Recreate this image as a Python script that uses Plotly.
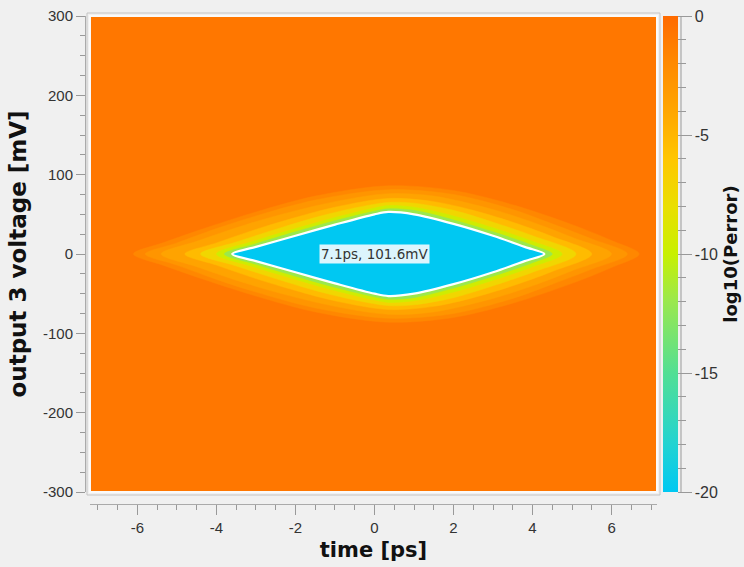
import plotly.graph_objects as go
from plotly.colors import sample_colorscale

# ---------------- data ----------------
x_range = [-7.2, 7.15]          # time [ps]
y_range = [-300, 300]           # voltage [mV]
x_ticks = [-6, -4, -2, 0, 2, 4, 6]
y_ticks = [-300, -200, -100, 0, 100, 200, 300]
cbar_ticks = [0, -5, -10, -15, -20]
cbar_minor = list(range(0, -21, -1))

# log10(Perror) colour scale (fraction 0 -> -20, 1 -> 0)
colorscale = [
    [0.00, "#00c8f2"],
    [0.10, "#22d3d2"],
    [0.25, "#52df94"],
    [0.40, "#9ae84e"],
    [0.50, "#c8f000"],
    [0.60, "#eadf00"],
    [0.70, "#ffc600"],
    [0.80, "#ffa600"],
    [0.90, "#ff8a00"],
    [1.00, "#ff6a00"],
]
cmin, cmax = -20, 0

background_level = -0.8

# nested regions (outermost first); upper half outline: time [ps], voltage [mV]
band_levels = [-1.8, -2.8, -3.8, -5.3, -7.3, -9.5, -12.0, -20.0]
band_times = [
    [-6.1, -5.3, -4.2, -3.0, -1.5, 0.35, 2.0, 3.5, 5.0, 6.0, 6.7],
    [-5.8, -5.0, -4.0, -3.0, -1.5, 0.35, 2.0, 3.5, 4.5, 5.5, 6.4],
    [-5.4, -4.5, -3.5, -2.5, -1.0, 0.35, 1.5, 3.0, 4.0, 5.0, 6.0],
    [-4.8, -4.0, -3.0, -2.0, -1.0, 0.35, 1.5, 2.5, 3.5, 4.5, 5.5],
    [-4.4, -3.5, -2.5, -1.5, -0.5, 0.35, 1.0, 2.0, 3.0, 4.0, 5.1],
    [-4.0, -3.0, -2.0, -1.0, 0.0, 0.35, 1.0, 2.0, 3.0, 4.0, 4.75],
    [-3.8, -3.0, -2.0, -1.0, 0.0, 0.35, 1.0, 2.0, 3.0, 4.0, 4.5],
    [-3.6, -3.0, -2.0, -1.0, 0.0, 0.35, 1.0, 2.0, 3.0, 3.8, 4.3],
]
band_volts = [
    [0, 15, 34, 53, 73, 86, 80, 62, 37, 17, 0],
    [0, 14, 32, 48, 68, 81, 75, 56, 38, 19, 0],
    [0, 16, 33, 48, 66, 76, 73, 56, 40, 21, 0],
    [0, 14, 31, 46, 59, 70, 66, 55, 40, 22, 0],
    [0, 15, 31, 46, 58, 65, 64, 55, 40, 23, 0],
    [0, 17, 32, 46, 58, 61, 59, 48, 33, 16, 0],
    [0, 13, 28, 42, 54, 57, 55, 43, 28, 11, 0],
    [0, 9, 23, 37, 50, 53, 50, 38, 23, 9, 0],
]

eye_label = "7.1ps, 101.6mV"
eye_label_pos = (0.0, 0)

# ---------------- figure ----------------
def level_color(lvl):
    return sample_colorscale(colorscale, [(lvl - cmin) / (cmax - cmin)])[0]

def ring(ts, vs):
    pts = list(zip(ts, vs)) + [(t, -v) for t, v in zip(ts[-2:0:-1], vs[-2:0:-1])]
    k = max(range(len(pts)), key=lambda i: pts[i][1])
    pts = pts[k:] + pts[:k] + [pts[k]]
    return [p[0] for p in pts], [p[1] for p in pts]

fig = go.Figure()
n = len(band_levels)
for i, (lvl, ts, vs) in enumerate(zip(band_levels, band_times, band_volts)):
    col = level_color(lvl)
    xs, ys = ring(ts, vs)
    last = i == n - 1
    fig.add_trace(go.Scatter(
        x=xs, y=ys, mode="lines", fill="toself", fillcolor=col,
        line=dict(color="white" if last else col, width=2.2 if last else 0.5,
                  shape="spline", smoothing=0.9),
        hoverinfo="skip", showlegend=False))

font_t = "Liberation Sans, Arial, sans-serif"
font_b = "DejaVu Sans, Verdana, sans-serif"

cb_x = (663 - 85) / 572
cb_len = 476 / 488
# colorbar: major ticks with labels
fig.add_trace(go.Scatter(
    x=[None], y=[None], mode="markers", showlegend=False, hoverinfo="skip",
    marker=dict(color=[cmin, cmax], cmin=cmin, cmax=cmax, colorscale=colorscale,
                showscale=True,
                colorbar=dict(
                    x=cb_x, xanchor="left", xpad=0,
                    y=1, yanchor="top", len=cb_len, lenmode="fraction", ypad=0,
                    thickness=15, outlinewidth=0,
                    tickmode="array", tickvals=cbar_ticks,
                    ticktext=[str(v) for v in cbar_ticks],
                    ticks="outside", ticklen=14, tickcolor="#999999",
                    tickfont=dict(family=font_t, size=16, color="#333333"),
                    title=dict(text="<b>log10(Perror)</b>", side="right",
                               font=dict(family=font_b, size=18, color="#111111")),
                ))))
# colorbar: minor ticks
fig.add_trace(go.Scatter(
    x=[None], y=[None], mode="markers", showlegend=False, hoverinfo="skip",
    marker=dict(color=[cmin, cmax], cmin=cmin, cmax=cmax, colorscale=colorscale,
                showscale=True,
                colorbar=dict(
                    x=cb_x, xanchor="left", xpad=0,
                    y=1, yanchor="top", len=cb_len, lenmode="fraction", ypad=0,
                    thickness=15, outlinewidth=0,
                    tickmode="array", tickvals=cbar_minor,
                    ticks="outside", ticklen=8, tickcolor="#999999",
                    showticklabels=False,
                ))))

fig.add_annotation(x=eye_label_pos[0], y=eye_label_pos[1], text=eye_label,
                   showarrow=False, bgcolor="#dcf5fd", borderpad=1,
                   font=dict(family=font_b, size=13.5, color="#333333"))

bg = level_color(background_level)
fig.update_layout(
    width=744, height=567,
    margin=dict(l=85, r=87, t=16, b=63, autoexpand=False),
    paper_bgcolor="#f0f0f0", plot_bgcolor="#f0f0f0",
    xaxis=dict(domain=[5 / 572, 1], anchor="free", position=0,
               range=x_range, tickmode="array", tickvals=x_ticks,
               ticktext=[str(v) for v in x_ticks],
               ticks="outside", ticklen=10, tickcolor="#999999",
               minor=dict(tickmode="linear", tick0=0, dtick=0.5, ticks="outside",
                          ticklen=5, tickcolor="#999999"),
               showline=True, linecolor="#aaaaaa", showgrid=False, zeroline=False,
               tickfont=dict(family=font_t, size=15, color="#333333"),
               title=dict(text="<b>time [ps]</b>", standoff=7,
                          font=dict(family=font_b, size=21, color="#111111"))),
    yaxis=dict(domain=[12 / 488, 1], anchor="free", position=0,
               range=y_range, tickmode="array", tickvals=y_ticks,
               ticktext=[str(v) for v in y_ticks],
               ticks="outside", ticklen=9, tickcolor="#999999",
               minor=dict(tickmode="linear", tick0=0, dtick=25, ticks="outside",
                          ticklen=5, tickcolor="#999999"),
               showline=True, linecolor="#aaaaaa", showgrid=False, zeroline=False,
               tickfont=dict(family=font_t, size=15, color="#333333"),
               title=dict(text="<b>output 3 voltage [mV]</b>", standoff=8,
                          font=dict(family=font_b, size=23, color="#111111"))),
    shapes=[
        dict(type="rect", xref="x domain", yref="y domain", x0=0, x1=1, y0=0, y1=1,
             fillcolor=bg, line=dict(width=0), layer="below"),
        dict(type="rect", xref="x domain", yref="y domain", x0=0, x1=1, y0=0, y1=1,
             fillcolor="rgba(0,0,0,0)", line=dict(color="#fafafa", width=2), layer="above"),
        dict(type="rect", xref="x domain", yref="y domain",
             x0=-3 / 567, x1=1 + 3 / 567, y0=-3 / 476, y1=1 + 3 / 476,
             fillcolor="rgba(0,0,0,0)", line=dict(color="#c4c4c4", width=1), layer="above"),
        dict(type="line", xref="paper", yref="paper",
             x0=(681 - 85) / 572, x1=(681 - 85) / 572, y0=12 / 488, y1=1,
             line=dict(color="#999999", width=1)),
    ],
)

fig.write_html("out.html", config={"displayModeBar": False},
               post_script="document.body.style.margin='0px';document.body.style.overflow='hidden';")
